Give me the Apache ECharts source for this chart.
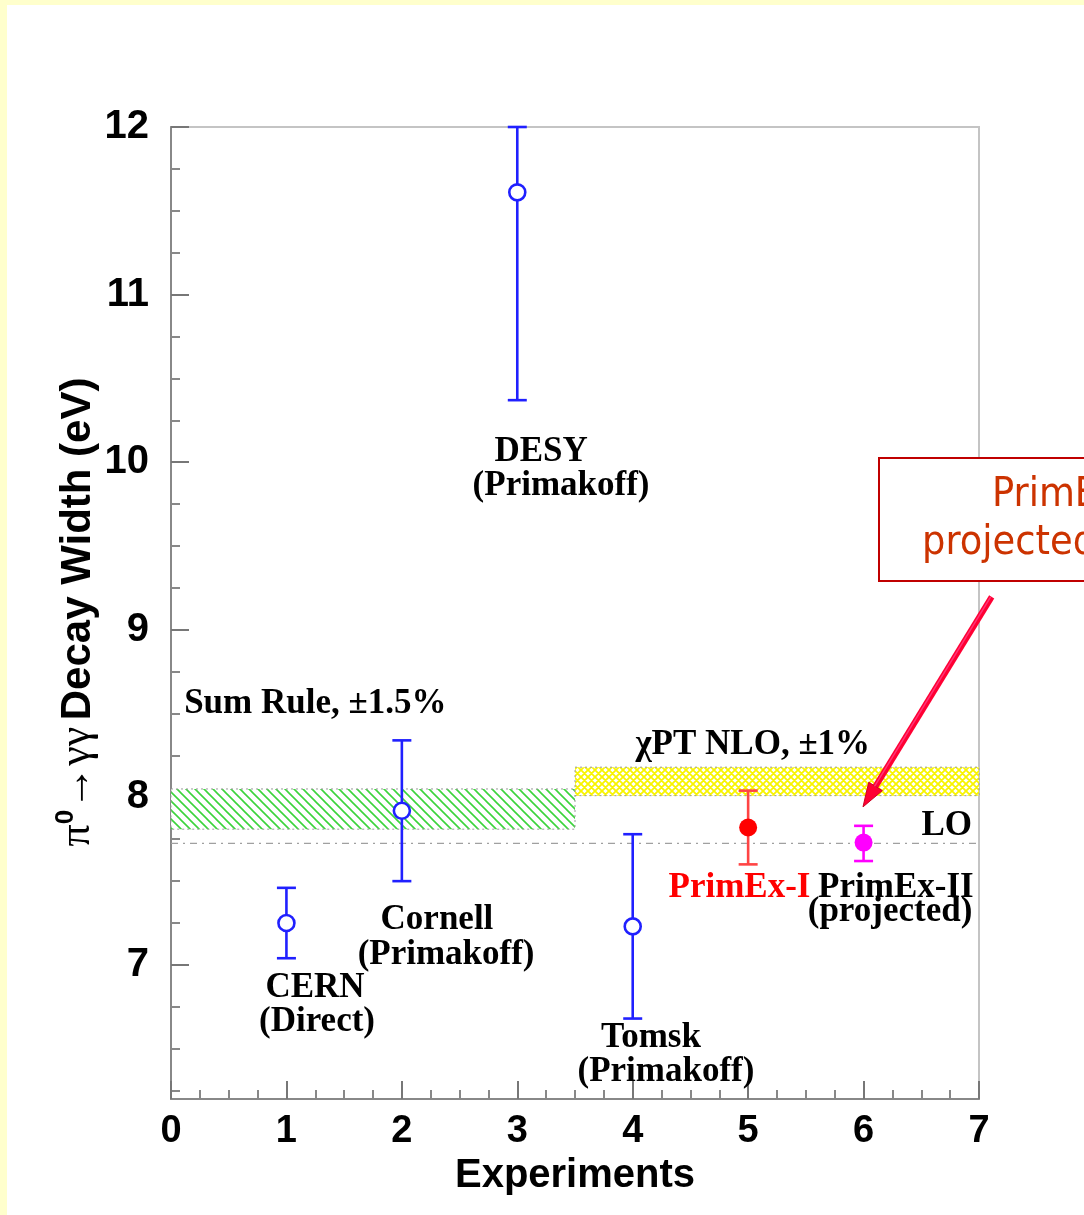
<!DOCTYPE html>
<html>
<head>
<meta charset="utf-8">
<script src="https://cdn.jsdelivr.net/npm/echarts@6/dist/echarts.min.js"></script>
<style>
html,body{margin:0;padding:0;background:#FFFFCC;}
#chart{width:1084px;height:1215px;}
</style>
</head>
<body>
<div id="chart"></div>
<script>
// ---- data ----
const experimentNames = ['CERN (Direct)', 'Cornell (Primakoff)', 'DESY (Primakoff)', 'Tomsk (Primakoff)', 'PrimEx-I', 'PrimEx-II (projected)'];
const expX = [1, 2, 3, 4, 5, 6];
const decayWidth = [7.25, 7.92, 11.61, 7.23, 7.82, 7.73];
const errDown = [0.21, 0.42, 1.24, 0.55, 0.22, 0.11];
const errUp = [0.21, 0.42, 1.24, 0.55, 0.22, 0.10];

const bandNames = ['Sum Rule, ±1.5%', 'χPT NLO, ±1%'];
const bandX0 = [0, 3.5];
const bandX1 = [3.5, 7];
const bandLow = [7.81, 8.01];
const bandHigh = [8.05, 8.18];

const loValue = 7.725;

const xTicks = [0, 1, 2, 3, 4, 5, 6, 7];
const yTicks = [7, 8, 9, 10, 11, 12];
const yMinorTicks = [6.25, 6.5, 6.75, 7.25, 7.5, 7.75, 8.25, 8.5, 8.75, 9.25, 9.5, 9.75, 10.25, 10.5, 10.75, 11.25, 11.5, 11.75];
const xMin = 0, xMax = 7, yMin = 6.2, yMax = 12;

// annotation text lines and their positions (data coordinates)
const annText = ['DESY', '(Primakoff)', 'Cornell', '(Primakoff)', 'CERN', '(Direct)', 'Tomsk', '(Primakoff)', 'PrimEx-I', 'PrimEx-II', '(projected)', 'Sum Rule, ±1.5%', 'χPT NLO, ±1%', 'LO'];
const annX = [3.206, 3.379, 2.304, 2.383, 1.248, 1.265, 4.158, 4.288, 4.925, 6.280, 6.229, 1.25, 5.04, 6.72];
const annY = [10.061, 9.858, 7.266, 7.057, 6.861, 6.658, 6.563, 6.360, 7.46, 7.46, 7.316, 8.557, 8.313, 7.83];

// ---- styles ----
const pointColors = ['#2020FF', '#2020FF', '#2020FF', '#2020FF', '#FF4444', '#FF00FF'];
const annColors = annText.map(t => t === 'PrimEx-I' ? '#FF0000' : '#000000');
const serif = "'Liberation Serif', 'Times New Roman', serif";
const sans = "'Liberation Sans', Arial, sans-serif";
const calloutFont = "'DejaVu Sans Condensed', 'DejaVu Sans', sans-serif";

function makePattern(kind) {
  const c = document.createElement('canvas');
  const s = kind === 'green' ? 9 : 7;
  c.width = s; c.height = s;
  const g = c.getContext('2d');
  g.fillStyle = '#ffffff';
  g.fillRect(0, 0, s, s);
  g.lineWidth = kind === 'green' ? 1.6 : 1.8;
  g.strokeStyle = kind === 'green' ? '#3CD43C' : '#F8F400';
  g.beginPath();
  g.moveTo(-1, -1); g.lineTo(s + 1, s + 1);
  g.moveTo(-1, s - 1); g.lineTo(1, s + 1);
  g.moveTo(s - 1, -1); g.lineTo(s + 1, 1);
  if (kind !== 'green') {
    g.moveTo(-1, s + 1); g.lineTo(s + 1, -1);
    g.moveTo(-1, 1); g.lineTo(1, -1);
    g.moveTo(s - 1, s + 1); g.lineTo(s + 1, s - 1);
  }
  g.stroke();
  return c;
}
const patterns = [makePattern('green'), makePattern('yellow')];

const chart = echarts.init(document.getElementById('chart'), null, {renderer: 'canvas'});

const errData = expX.map((x, i) => [x, decayWidth[i], decayWidth[i] - errDown[i], decayWidth[i] + errUp[i]]);
const bandData = bandX0.map((x0, i) => [x0, bandX1[i], bandLow[i], bandHigh[i], i]);
const openPts = expX.slice(0, 4).map((x, i) => [x, decayWidth[i]]);
const annData = annText.map((t, i) => [annX[i], annY[i], i]);

const option = {
  backgroundColor: '#FFFFCC',
  animation: false,
  grid: {left: 171, top: 127, width: 808, height: 972, show: true, borderColor: '#c4c4c4', borderWidth: 2, backgroundColor: 'transparent'},
  xAxis: {
    type: 'value', min: xMin, max: xMax, interval: 1,
    axisLine: {show: true, onZero: false, lineStyle: {color: '#888', width: 2}},
    axisTick: {show: true, inside: true, length: 18, lineStyle: {color: '#777', width: 2}},
    minorTick: {show: true, splitNumber: 4, length: 9, lineStyle: {color: '#888', width: 2}},
    splitLine: {show: false},
    axisLabel: {margin: 14, fontFamily: sans, fontWeight: 'bold', fontSize: 38, color: '#000'},
    name: 'Experiments', nameLocation: 'middle', nameGap: 44,
    nameTextStyle: {fontFamily: sans, fontWeight: 'bold', fontSize: 40, color: '#000'}
  },
  yAxis: [{
    type: 'value', min: yMin, max: yMax,
    axisLine: {show: true, onZero: false, lineStyle: {color: '#888', width: 2}},
    axisTick: {show: true, inside: true, length: 18, customValues: yTicks, lineStyle: {color: '#777', width: 2}},
    splitLine: {show: false},
    axisLabel: {customValues: yTicks, margin: 22, fontFamily: sans, fontWeight: 'bold', fontSize: 40, color: '#000', padding: [4, 0, 0, 0]}
  }, {
    type: 'value', min: yMin, max: yMax, position: 'left',
    axisLine: {show: false},
    axisTick: {show: true, inside: true, length: 9, customValues: yMinorTicks, lineStyle: {color: '#888', width: 2}},
    splitLine: {show: false},
    axisLabel: {show: false}
  }],
  graphic: [
    {id: 'paper', type: 'rect', z: -10, silent: true, shape: {x: 7, y: 5, width: 1100, height: 1220}, style: {fill: '#ffffff'}},
    {id: 'ytitle', type: 'text', x: 76, y: 612, rotation: Math.PI / 2, z: 100,
      style: {
        text: '{pi|π}{sup|0}{ar|→γγ}{sp| }{t|Decay Width (eV)}',
        align: 'center', verticalAlign: 'middle',
        rich: {
          pi: {fontFamily: serif, fontSize: 44, fill: '#000', lineHeight: 46, verticalAlign: 'bottom'},
          sup: {fontFamily: sans, fontWeight: 'bold', fontSize: 26, fill: '#000', verticalAlign: 'top', lineHeight: 26},
          ar: {fontFamily: serif, fontSize: 44, fill: '#000', lineHeight: 46, verticalAlign: 'bottom'},
          sp: {fontSize: 24, lineHeight: 46, verticalAlign: 'bottom'},
          t: {fontFamily: sans, fontWeight: 'bold', fontSize: 42, fill: '#000', lineHeight: 46, verticalAlign: 'bottom'}
        }
      }
    },
    {id: 'callbox', type: 'rect', z: 100, shape: {x: 879, y: 458, width: 400, height: 123}, style: {fill: '#ffffff', stroke: '#C00000', lineWidth: 2}},
    {id: 'call1', type: 'text', z: 101, x: 992, y: 495, style: {text: 'PrimEx-II', fill: '#CC3300', fontFamily: calloutFont, fontSize: 41, verticalAlign: 'middle', align: 'left'}},
    {id: 'call2', type: 'text', z: 101, x: 922, y: 543, style: {text: 'projected error', fill: '#CC3300', fontFamily: calloutFont, fontSize: 41, verticalAlign: 'middle', align: 'left'}}
  ],
  series: [
    {
      type: 'custom', name: 'bands', z: 1, xAxisIndex: 0, yAxisIndex: 0,
      data: bandData,
      encode: {x: [0, 1], y: [2, 3]},
      renderItem: function (params, api) {
        const p0 = api.coord([api.value(0), api.value(3)]);
        const p1 = api.coord([api.value(1), api.value(2)]);
        const idx = api.value(4);
        return {
          type: 'rect',
          shape: {x: p0[0], y: p0[1], width: p1[0] - p0[0], height: p1[1] - p0[1]},
          style: {fill: {image: patterns[idx], repeat: 'repeat'}, stroke: '#9a9a9a', lineWidth: 1, lineDash: [2, 3]}
        };
      }
    },
    {
      type: 'line', name: 'LO', z: 2, xAxisIndex: 0, yAxisIndex: 0,
      data: [[xMin, loValue], [xMax, loValue]],
      symbol: 'none',
      lineStyle: {color: '#a0a0a0', width: 1.3, type: [7, 5, 2, 5]}
    },
    {
      type: 'custom', name: 'errors', z: 3, xAxisIndex: 0, yAxisIndex: 0,
      data: errData,
      encode: {x: 0, y: [2, 3]},
      renderItem: function (params, api) {
        const x = api.value(0);
        const lo = Math.max(api.value(2), yMin);
        const hi = Math.min(api.value(3), yMax);
        const t = api.coord([x, hi]);
        const b = api.coord([x, lo]);
        const c = pointColors[params.dataIndex];
        const h = 9.5;
        const st = {stroke: c, lineWidth: 2.6};
        return {
          type: 'group',
          children: [
            {type: 'line', shape: {x1: t[0], y1: t[1], x2: b[0], y2: b[1]}, style: st},
            {type: 'line', shape: {x1: t[0] - h, y1: t[1], x2: t[0] + h, y2: t[1]}, style: st},
            {type: 'line', shape: {x1: b[0] - h, y1: b[1], x2: b[0] + h, y2: b[1]}, style: st}
          ]
        };
      }
    },
    {
      type: 'scatter', name: 'previous', z: 4, data: openPts,
      symbol: 'circle', symbolSize: 16,
      itemStyle: {color: '#ffffff', borderColor: '#2020FF', borderWidth: 2.6, opacity: 1}
    },
    {
      type: 'scatter', name: 'PrimEx-I', z: 4, data: [[expX[4], decayWidth[4]]],
      symbol: 'circle', symbolSize: 18,
      itemStyle: {color: '#FF0000', opacity: 1}
    },
    {
      type: 'scatter', name: 'PrimEx-II', z: 4, data: [[expX[5], decayWidth[5]]],
      symbol: 'circle', symbolSize: 18,
      itemStyle: {color: '#FF00FF', opacity: 1}
    },
    {
      type: 'custom', name: 'labels', z: 5, xAxisIndex: 0, yAxisIndex: 0,
      data: annData,
      encode: {x: 0, y: 1},
      renderItem: function (params, api) {
        const p = api.coord([api.value(0), api.value(1)]);
        const i = api.value(2);
        return {
          type: 'text',
          x: p[0], y: p[1],
          style: {
            text: annText[i], fill: annColors[i],
            font: 'bold 35px ' + serif,
            align: 'center', verticalAlign: 'middle'
          }
        };
      }
    }
  ]
};
chart.setOption(option);

// arrow annotation pointing to the PrimEx-II point
const tail = chart.convertToPixel({gridIndex: 0}, [7.11, 9.196]);
const tip = chart.convertToPixel({gridIndex: 0}, [5.995, 7.943]);
const dx = tip[0] - tail[0], dy = tip[1] - tail[1];
const len = Math.sqrt(dx * dx + dy * dy);
const ux = dx / len, uy = dy / len;
const headLen = 24, headW = 8;
const bx = tip[0] - ux * headLen, by = tip[1] - uy * headLen;
chart.setOption({
  graphic: [
    {id: 'arrowShaft', type: 'line', z: 102, shape: {x1: tail[0], y1: tail[1], x2: bx, y2: by}, style: {stroke: '#FF0033', lineWidth: 6}},
    {id: 'arrowGlint', type: 'line', z: 103, shape: {x1: tail[0] - 1, y1: tail[1], x2: bx - 1, y2: by}, style: {stroke: '#FF3377', lineWidth: 1.5}},
    {id: 'arrowHead', type: 'polygon', z: 102, shape: {points: [tip, [bx - uy * headW, by + ux * headW], [bx + uy * headW, by - ux * headW]]}, style: {fill: '#FF0033', stroke: '#CC0022', lineWidth: 1}}
  ]
});
</script>
</body>
</html>
